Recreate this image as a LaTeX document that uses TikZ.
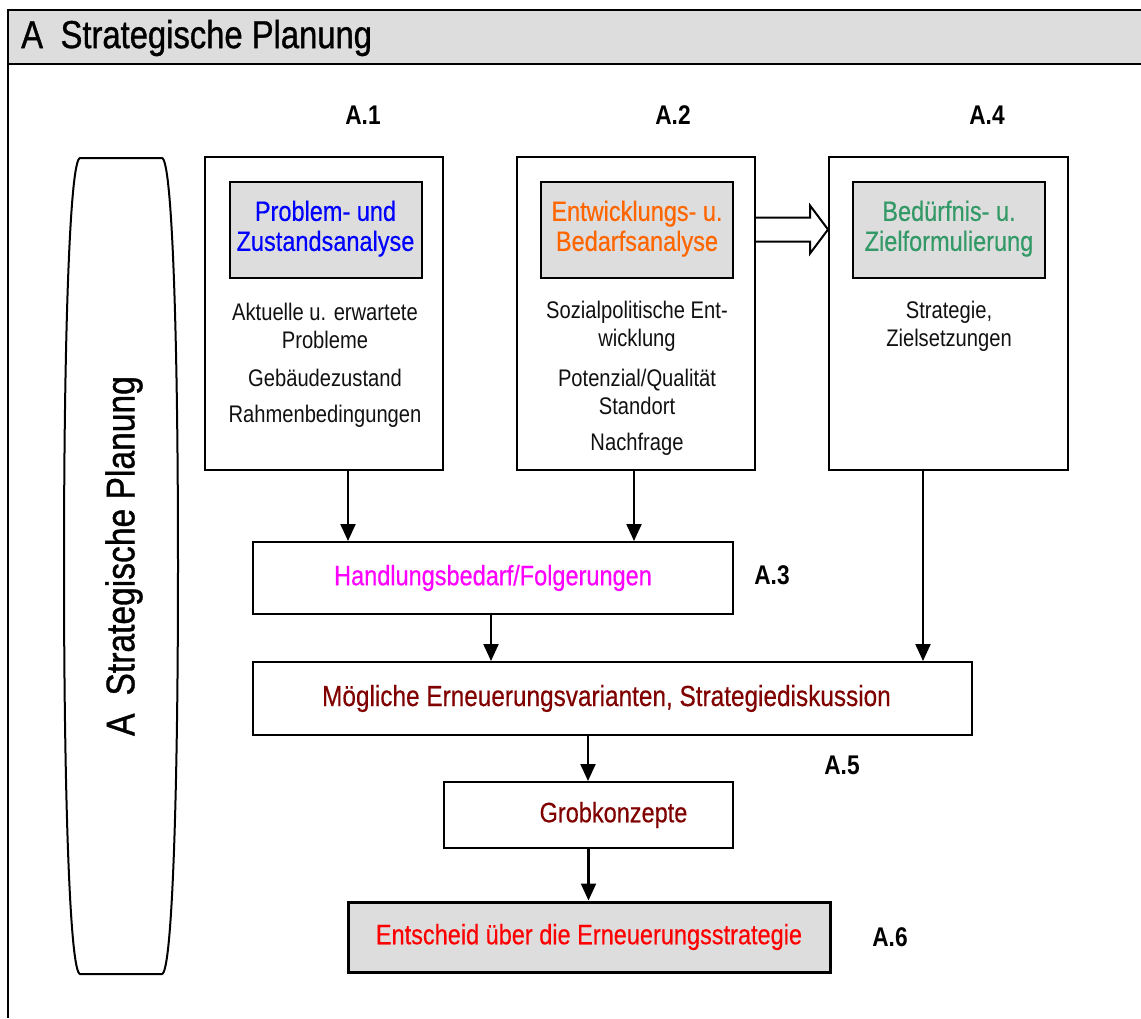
\documentclass[tikz,border=0pt]{standalone}
\usepackage{fontspec}
\setmainfont{Liberation Sans}[FakeStretch=0.84]
\newfontfamily\heavyfont{Liberation Sans}[FakeStretch=0.84, FakeBold=0.9]
\newfontfamily\midfont{Liberation Sans}[FakeStretch=0.84, FakeBold=0.4]
\usetikzlibrary{arrows.meta,calc}
\definecolor{hdrgray}{HTML}{DDDDDD}
\definecolor{cblue}{HTML}{0000FF}
\definecolor{corange}{HTML}{FF6600}
\definecolor{cgreen}{HTML}{339966}
\definecolor{cmagenta}{HTML}{FF00FF}
\definecolor{cdarkred}{HTML}{800000}
\definecolor{cred}{HTML}{FF0000}
\definecolor{ctext}{HTML}{111111}
\tikzset{
  outerbox/.style={draw, line width=2pt, minimum width=238pt, minimum height=313pt, inner sep=0pt},
  innerbox/.style={draw, line width=2pt, fill=hdrgray, minimum width=192pt, minimum height=96pt, align=center, inner sep=0pt, font=\midfont\fontsize{28}{32}\selectfont},
  bodytext/.style={align=center, inner sep=0pt, text=ctext, font=\fontsize{24}{28}\selectfont},
  flowbox/.style={draw, line width=2pt, align=center, inner sep=0pt, font=\midfont\fontsize{28}{30}\selectfont},
  steplabel/.style={inner sep=0pt, font=\bfseries\fontsize{27}{30}\selectfont},
  arr/.style={line width=2.2pt, -{Triangle[length=17pt,width=15pt]}}
}
\begin{document}
\begin{tikzpicture}[x=1pt,y=-1pt]
\useasboundingbox (0,0) rectangle (1141,1018);
% frame and header
\fill[hdrgray] (8,10) rectangle (1141,64);
\draw[line width=2pt] (1141,10) -- (8,10) -- (8,1018);
\draw[line width=2.5pt] (8,64) -- (1141,64);
\node[anchor=west, inner sep=0pt, font=\heavyfont\fontsize{39}{42}\selectfont] (title) at (21,38) {A\hspace{0.45em}Strategische Planung};
% left barrel shape
\draw[line width=2pt] (80,158) -- (162,158)
  .. controls (172,160) and (178,330) .. (178,566)
  .. controls (178,800) and (172,972) .. (162,974)
  -- (80,974)
  .. controls (70,972) and (64,800) .. (64,566)
  .. controls (64,330) and (70,160) .. (80,158) -- cycle;
\node[rotate=90, inner sep=0pt, font=\heavyfont\fontsize{40}{42}\selectfont] (side) at (124,556) {A\hspace{0.45em}Strategische Planung};
% step labels
\node[steplabel] (l1) at (363,115) {A.1};
\node[steplabel] (l2) at (673,115) {A.2};
\node[steplabel] (l4) at (987,115) {A.4};
% three outer boxes
\node[outerbox] (b1) at (324,313.5) {};
\node[outerbox] (b2) at (636,313.5) {};
\node[outerbox, minimum width=239pt] (b4) at (948.5,313.5) {};
\node[innerbox, text=cblue] (i1) at (325.5,229.5) {\raisebox{2pt}{\begin{tabular}{@{}c@{}}Problem- und\\[-2pt]Zustandsanalyse\end{tabular}}};
\node[innerbox, text=corange] (i2) at (637,229.5) {\raisebox{2pt}{\begin{tabular}{@{}c@{}}Entwicklungs- u.\\[-2pt]Bedarfsanalyse\end{tabular}}};
\node[innerbox, text=cgreen] (i4) at (949,229.5) {\raisebox{2pt}{\begin{tabular}{@{}c@{}}Bedürfnis- u.\\[-2pt]Zielformulierung\end{tabular}}};
% body texts
\node[bodytext] (t1a) at (325,326) {Aktuelle u. erwartete\\Probleme};
\node[bodytext] (t1b) at (325,378) {Gebäudezustand};
\node[bodytext] (t1c) at (325,416) {Rahmenbedingungen};
\node[bodytext] (t2a) at (637,326) {Sozialpolitische Ent-\\wicklung};
\node[bodytext] (t2b) at (637,392) {Potenzial/Qualität\\Standort};
\node[bodytext] (t2c) at (637,444) {Nachfrage};
\node[bodytext] (t4a) at (949,326) {Strategie,\\Zielsetzungen};
% hollow arrow A.2 -> A.4
\coordinate (ha) at (i2.center -| b2.east);
\coordinate (hb) at (i4.center -| b4.west);
\draw[line width=2pt, fill=white, line join=miter]
  ($(ha)+(0,-12)$) -- ($(hb)+(-18,-12)$) -- ($(hb)+(-18,-24)$) -- (hb)
  -- ($(hb)+(-18,24)$) -- ($(hb)+(-18,12)$) -- ($(ha)+(0,12)$);
% flow boxes
\node[flowbox, minimum width=480pt, minimum height=72pt, text=cmagenta] (a3) at (493,578) {Handlungsbedarf/Folgerungen};
\node[flowbox, minimum width=719pt, minimum height=73pt, text=cdarkred, font=\midfont\fontsize{29}{30}\selectfont] (a5) at (612.5,698.5) {Mögliche Erneuerungsvarianten, Strategiediskussion\hspace{12pt}};
\node[flowbox, minimum width=289pt, minimum height=66pt, text=cdarkred] (gk) at (588.5,815) {\hspace{50pt}Grobkonzepte};
\node[flowbox, line width=3pt, fill=hdrgray, minimum width=482pt, minimum height=70pt, text=cred] (a6) at (589,937) {Entscheid über die Erneuerungsstrategie};
\node[steplabel] (l3) at (772,575) {A.3};
\node[steplabel] (l5) at (842,765) {A.5};
\node[steplabel] (l6) at (890,937) {A.6};
% arrows
\draw[arr] ([xshift=24pt]b1.south) -- ([xshift=24pt]b1.south |- a3.north);
\draw[arr] ([xshift=-2pt]b2.south) -- ([xshift=-2pt]b2.south |- a3.north);
\draw[arr] ([xshift=-2pt]a3.south) -- ([xshift=-2pt]a3.south |- a5.north);
\draw[arr] ([xshift=-25.5pt]b4.south) -- ([xshift=-25.5pt]b4.south |- a5.north);
\draw[arr] ([xshift=-24.5pt]a5.south) -- ([xshift=-24.5pt]a5.south |- gk.north);
\draw[arr] (gk.south) -- (gk.south |- a6.north);
\end{tikzpicture}
\end{document}
